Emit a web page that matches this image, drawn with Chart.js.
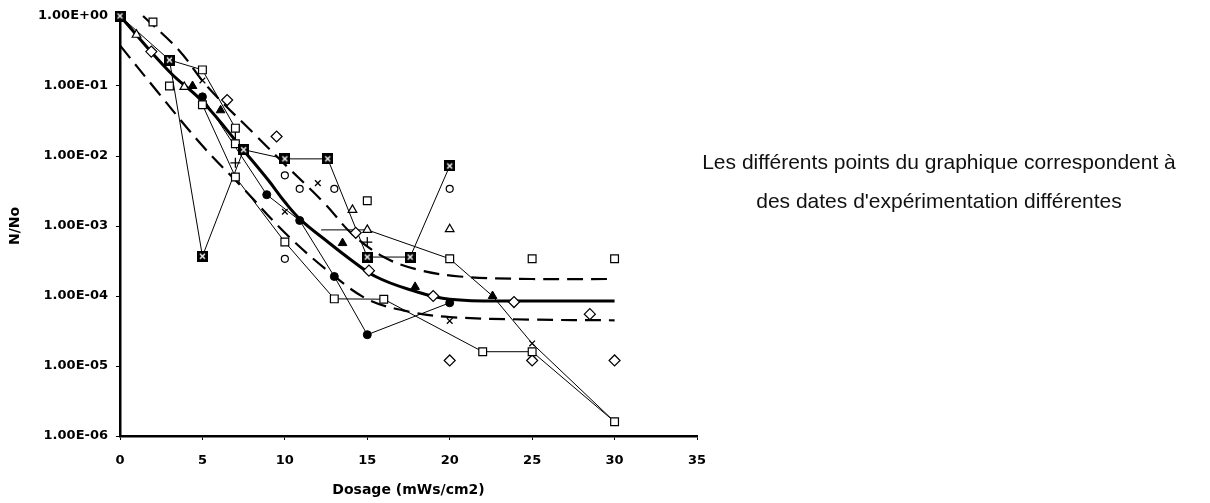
<!DOCTYPE html>
<html><head><meta charset="utf-8">
<script src="https://cdn.jsdelivr.net/npm/chart.js@4.4.1/dist/chart.umd.min.js"></script>
<style>
html,body{margin:0;padding:0;background:#fff;width:1210px;height:503px;overflow:hidden}
#wrap{position:absolute;left:0;top:0;width:720px;height:503px}
#note{position:absolute;left:639px;top:142px;width:600px;text-align:center;font-family:"Liberation Sans",Arial,sans-serif;font-size:21px;line-height:39px;color:#111}
</style></head><body>
<div id="wrap"><canvas id="c"></canvas></div>
<div id="note">Les différents points du graphique correspondent à<br>des dates d'expérimentation différentes</div>
<script>
// ---- axis ticks ----
const xTickValues = [0, 5, 10, 15, 20, 25, 30, 35];
const yTickValues = [1e-6, 1e-5, 1e-4, 1e-3, 1e-2, 1e-1, 1];
const yTickLabels = ['1.00E-06', '1.00E-05', '1.00E-04', '1.00E-03', '1.00E-02', '1.00E-01', '1.00E+00'];

// ---- fitted curve and bounds ----
const fitDose = [0, 3, 5, 7.5, 9, 10, 11, 12.5, 14, 15.5, 17.5, 20, 25, 30];
const fitNNo = [1, 0.16, 0.06, 0.012, 4.5e-3, 2.2e-3, 1.2e-3, 6.2e-4, 3.3e-4, 1.9e-4, 1.25e-4, 9e-5, 8.5e-5, 8.5e-5];
const upperDose = [1.4, 3.6, 5.3, 8.3, 10, 12.5, 14, 16, 18, 20.6, 25, 30];
const upperNNo = [1, 0.32, 0.098, 0.019, 7.6e-3, 2e-3, 8e-4, 3.6e-4, 2.4e-4, 1.9e-4, 1.75e-4, 1.75e-4];
const lowerDose = [0, 2.2, 5, 7.5, 10, 12.5, 15, 17.5, 20, 25, 30];
const lowerNNo = [0.38, 0.087, 0.014, 3.4e-3, 8e-4, 2.4e-4, 9e-5, 6e-5, 5e-5, 4.6e-5, 4.5e-5];

// ---- connected experiment dates ----
const dateADose = [0, 3, 5, 7.5, 10, 12.6, 15, 17.6, 20];
const dateANNo = [1, 0.235, 3.7e-4, 0.0123, 0.0091, 0.0091, 3.6e-4, 3.6e-4, 0.0072];
const dateBDose = [5, 7, 10, 13, 16, 22, 25, 30];
const dateBNNo = [0.054, 0.005, 5.9e-4, 9.1e-5, 9e-5, 1.6e-5, 1.6e-5, 1.6e-6];
const dateCDose = [3, 5, 7, 7];
const dateCNNo = [0.235, 0.17, 0.025, 0.015];
const dateDDose = [5, 8.9, 10.9, 13, 15, 20];
const dateDNNo = [0.07, 2.8e-3, 1.2e-3, 1.9e-4, 2.8e-5, 8e-5];
const dateEDose = [12.2, 15, 20, 22.6, 25, 30];
const dateENNo = [8.8e-4, 8.8e-4, 3.4e-4, 1e-4, 2.1e-5, 1.6e-6];

// ---- isolated points ----
const squareDose = [2, 3, 15, 20, 25, 30];
const squareNNo = [0.82, 0.1, 2.3e-3, 3.4e-4, 3.4e-4, 3.4e-4];
const diamondDose = [1.9, 6.5, 9.5, 14.3, 15.1, 19, 23.9, 28.5, 20, 25, 30];
const diamondNNo = [0.31, 0.063, 0.019, 8e-4, 2.3e-4, 1e-4, 8.2e-5, 5.5e-5, 1.2e-5, 1.2e-5, 1.2e-5];
const openTriDose = [1, 3.9, 14.1, 15, 20];
const openTriNNo = [0.54, 0.097, 1.7e-3, 8.8e-4, 9e-4];
const fillTriDose = [4.4, 6.1, 13.5, 17.9, 22.6];
const fillTriNNo = [0.1, 0.045, 5.7e-4, 1.35e-4, 1e-4];
const openCircDose = [10, 10.9, 13, 20, 10];
const openCircNNo = [5.3e-3, 3.4e-3, 3.4e-3, 3.4e-3, 3.4e-4];
const crossDose = [5, 10, 12, 20, 25];
const crossNNo = [0.12, 1.6e-3, 4.1e-3, 4.4e-5, 2.1e-5];
const plusDose = [7, 15];
const plusNNo = [8e-3, 5.9e-4];

const pts = (xs, ys) => xs.map((x, i) => ({x: x, y: ys[i]}));

function xSquare(size) {
  const c = document.createElement('canvas');
  c.width = size; c.height = size;
  const g = c.getContext('2d');
  g.fillStyle = '#000'; g.fillRect(0, 0, size, size);
  g.strokeStyle = '#fff'; g.lineWidth = 1.4;
  g.beginPath();
  g.moveTo(3, 3); g.lineTo(size - 3, size - 3);
  g.moveTo(size - 3, 3); g.lineTo(3, size - 3);
  g.stroke();
  return c;
}
const xsq = xSquare(11);

const thin = {borderColor: '#000', borderWidth: 1, showLine: true, pointRadius: 0, clip: false};
function marks(data, style, r, fill, bw) {
  return {data: data, showLine: false, pointStyle: style, pointRadius: r, pointHoverRadius: r,
    backgroundColor: fill, borderColor: '#000', pointBorderWidth: bw, borderWidth: bw, clip: false};
}

const datasets = [
  marks(pts(dateADose, dateANNo), xsq, 6, '#000', 1),
  marks(pts(dateBDose, dateBNNo), 'rect', 5.5, '#fff', 1.2),
  marks(pts(dateCDose.slice(1), dateCNNo.slice(1)), 'rect', 5.5, '#fff', 1.2),
  marks(pts(dateDDose, dateDNNo), 'circle', 4, '#000', 1),
  marks(pts(squareDose, squareNNo), 'rect', 5.5, '#fff', 1.2),
  marks(pts(diamondDose, diamondNNo), 'rectRot', 5.5, '#fff', 1.2),
  marks(pts(openTriDose, openTriNNo), 'triangle', 5, '#fff', 1.2),
  marks(pts(fillTriDose, fillTriNNo), 'triangle', 5, '#000', 1),
  marks(pts(openCircDose, openCircNNo), 'circle', 3.5, '#fff', 1.2),
  marks(pts(crossDose, crossNNo), 'crossRot', 4, '#000', 1.3),
  marks(pts(plusDose, plusNNo), 'cross', 5, '#000', 1.3),
  Object.assign({data: pts(dateADose, dateANNo)}, thin),
  Object.assign({data: pts(dateBDose, dateBNNo)}, thin),
  Object.assign({data: pts(dateCDose, dateCNNo)}, thin),
  Object.assign({data: pts(dateDDose, dateDNNo)}, thin),
  Object.assign({data: pts(dateEDose, dateENNo)}, thin),
  {data: pts(upperDose, upperNNo), showLine: true, pointRadius: 0, borderColor: '#000', borderWidth: 2.2, borderDash: [16, 8], tension: 0.35, clip: false},
  {data: pts(lowerDose, lowerNNo), showLine: true, pointRadius: 0, borderColor: '#000', borderWidth: 2.2, borderDash: [16, 8], tension: 0.35, clip: false},
  {data: pts(fitDose, fitNNo), showLine: true, pointRadius: 0, borderColor: '#000', borderWidth: 3, tension: 0.4, clip: false}
];

const tickFont = {family: '"DejaVu Sans", sans-serif', size: 13, weight: 'bold'};

new Chart(document.getElementById('c'), {
  type: 'scatter',
  data: {datasets: datasets},
  options: {
    responsive: true, maintainAspectRatio: false, animation: false,
    events: [],
    layout: {padding: {left: 0, right: 23, top: 16, bottom: 0}},
    plugins: {legend: {display: false}, tooltip: {enabled: false}},
    scales: {
      x: {
        type: 'linear', min: 0, max: 35,
        afterBuildTicks: s => { s.ticks = xTickValues.map(v => ({value: v})); },
        ticks: {font: tickFont, color: '#000', padding: 13, maxRotation: 0},
        grid: {drawOnChartArea: false, drawTicks: true, tickLength: 4, color: '#000'},
        border: {display: true, color: '#000', width: 2.5},
        title: {display: true, text: 'Dosage (mWs/cm2)', color: '#000',
          font: {family: '"DejaVu Sans", sans-serif', size: 14, weight: 'bold'}, padding: {top: 4, bottom: 4}},
        afterFit: s => { s.height = 67; }
      },
      y: {
        type: 'logarithmic', min: 1e-6, max: 1,
        afterBuildTicks: s => { s.ticks = yTickValues.map(v => ({value: v})); },
        ticks: {font: tickFont, color: '#000', padding: 8,
          callback: v => yTickLabels[yTickValues.findIndex(t => Math.abs(Math.log10(t) - Math.log10(v)) < 1e-6)]},
        grid: {drawOnChartArea: false, drawTicks: true, tickLength: 4, color: '#000'},
        border: {display: true, color: '#000', width: 2.5},
        title: {display: true, text: 'N/No', color: '#000',
          font: {family: '"DejaVu Sans", sans-serif', size: 14, weight: 'bold'}, padding: {top: 7, bottom: 0}},
        afterFit: s => { s.width = 120; }
      }
    }
  }
});
</script>
</body></html>
